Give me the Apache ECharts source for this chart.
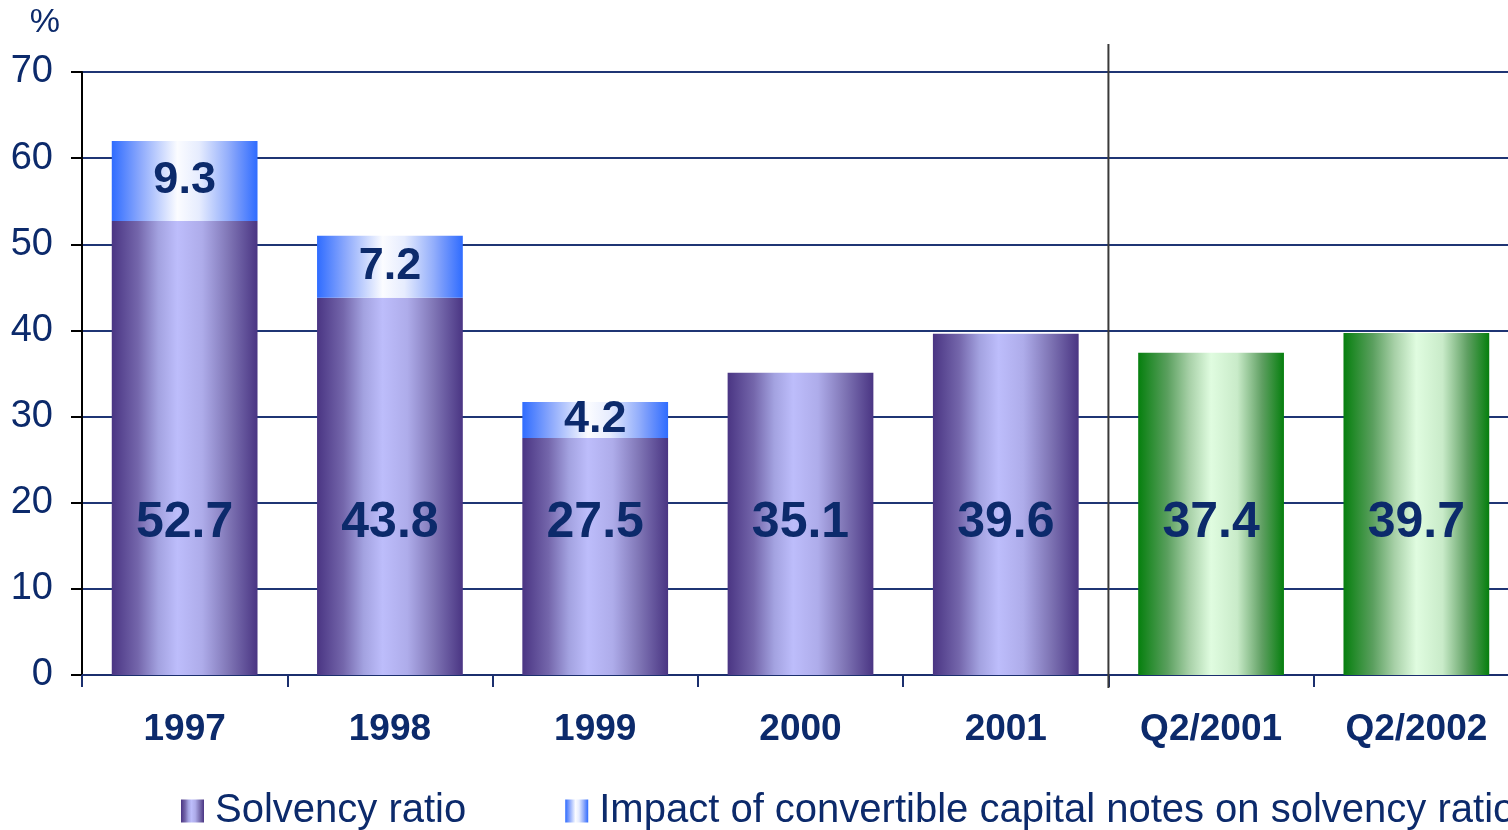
<!DOCTYPE html>
<html>
<head>
<meta charset="utf-8">
<script src="https://cdn.jsdelivr.net/npm/echarts@6/dist/echarts.min.js"></script>
<style>
  html, body { margin: 0; padding: 0; background: #fff; }
  #chart { width: 1508px; height: 830px; }
</style>
</head>
<body>
<div id="chart"></div>
<script>
// Solvency ratio by period, with the added impact of convertible capital notes
const categories = ['1997', '1998', '1999', '2000', '2001', 'Q2/2001', 'Q2/2002'];
const solvency = [52.7, 43.8, 27.5, 35.1, 39.6, 37.4, 39.7];
const convertibleImpact = [9.3, 7.2, 4.2, null, null, null, null];
const yTicks = [0, 10, 20, 30, 40, 50, 60, 70];

const FONT = '"Liberation Sans", Arial, sans-serif';
const NAVY = '#0c2a6b';

function hGrad(stops) {
  return new echarts.graphic.LinearGradient(0, 0, 1, 0,
    stops.map(s => ({ offset: s[0], color: s[1] })));
}
const purple = hGrad([[0, '#4a3583'], [0.18, '#7466ab'], [0.32, '#a3a2e0'], [0.45, '#bdbdfb'],
  [0.62, '#aeacea'], [0.8, '#8076b6'], [1, '#4a3583']]);
const blue = hGrad([[0, '#2f6cff'], [0.2, '#8eaafc'], [0.45, '#fbfcff'], [0.6, '#e6ecfe'],
  [0.8, '#93aefb'], [0.85, '#7a9cfb'], [1, '#2f6cff']]);
const green = hGrad([[0, '#067f0e'], [0.2, '#5a9f5e'], [0.35, '#a7d0a7'], [0.5, '#e0fce0'],
  [0.68, '#c9ebc9'], [0.85, '#5f9f62'], [1, '#067f0e']]);

const chart = echarts.init(document.getElementById('chart'), null, { renderer: 'canvas' });

const solvencyData = solvency.map((v, i) => categories[i].startsWith('Q')
  ? { value: v, itemStyle: { color: green } }
  : v);

chart.setOption({
  animation: false,
  textStyle: { fontFamily: FONT },
  // the plot runs slightly past the right edge of the canvas
  grid: { left: 82, top: 72, width: 1437, height: 603, containLabel: false, outerBoundsMode: 'none' },
  legend: {
    type: 'plain',
    orient: 'horizontal',
    left: 176, top: 786, width: 2400,
    itemWidth: 23, itemHeight: 23, itemGap: 99,
    icon: 'rect',
    textStyle: { fontSize: 40, color: NAVY, fontFamily: FONT, padding: [0, 0, 0, 6] },
    data: ['Solvency ratio', 'Impact of convertible capital notes on solvency ratio']
  },
  xAxis: [{
    type: 'category',
    data: categories,
    axisLine: { lineStyle: { color: '#1b2f6e', width: 2 } },
    axisTick: { show: true, length: 12, lineStyle: { color: '#1b2f6e', width: 2 } },
    axisLabel: { fontSize: 37, fontWeight: 'bold', color: NAVY, margin: 36, fontFamily: FONT },
    splitLine: { show: false }
  }, {
    type: 'value', min: 0, max: categories.length, show: false
  }],
  yAxis: {
    type: 'value',
    min: yTicks[0], max: yTicks[yTicks.length - 1], interval: 10,
    name: '%',
    nameLocation: 'end',
    nameGap: 32,
    nameTextStyle: { fontSize: 34, color: NAVY, align: 'right', padding: [0, 22, 0, 0], fontFamily: FONT },
    axisLine: { show: true, lineStyle: { color: '#000', width: 2 } },
    axisTick: { show: true, length: 11, lineStyle: { color: '#000', width: 2 } },
    axisLabel: { fontSize: 38, color: NAVY, margin: 29, fontFamily: FONT },
    splitLine: { show: true, lineStyle: { color: '#1f3574', width: 2 } }
  },
  series: [{
    name: 'Solvency ratio',
    type: 'bar',
    stack: 'total',
    barCategoryGap: '29%',
    itemStyle: { color: purple },
    label: {
      show: true, position: 'insideBottom', distance: 127,
      fontSize: 50, fontWeight: 'bold', color: NAVY, fontFamily: FONT,
      formatter: p => p.value.toFixed(1)
    },
    data: solvencyData
  }, {
    name: 'Impact of convertible capital notes on solvency ratio',
    type: 'bar',
    stack: 'total',
    itemStyle: { color: blue },
    label: {
      show: true, position: 'inside',
      fontSize: 45, fontWeight: 'bold', color: NAVY, fontFamily: FONT,
      formatter: p => p.value == null ? '' : p.value.toFixed(1)
    },
    data: convertibleImpact
  }, {
    // carrier for the hidden numeric x axis used to place the divider
    type: 'line', xAxisIndex: 1, data: [], silent: true
  }]
});

// Divider between the annual and the quarterly figures
const annualCount = categories.filter(c => !c.startsWith('Q')).length;
const xDiv = chart.convertToPixel({ xAxisIndex: 1 }, annualCount);
const yTop = chart.convertToPixel({ yAxisIndex: 0 }, yTicks[yTicks.length - 1]);
const yBase = chart.convertToPixel({ yAxisIndex: 0 }, yTicks[0]);
chart.setOption({
  graphic: [{
    type: 'line',
    shape: { x1: xDiv, y1: yTop - 28, x2: xDiv, y2: yBase + 13 },
    style: { stroke: '#3a3a3a', lineWidth: 2 },
    z: 10
  }]
});
</script>
</body>
</html>
